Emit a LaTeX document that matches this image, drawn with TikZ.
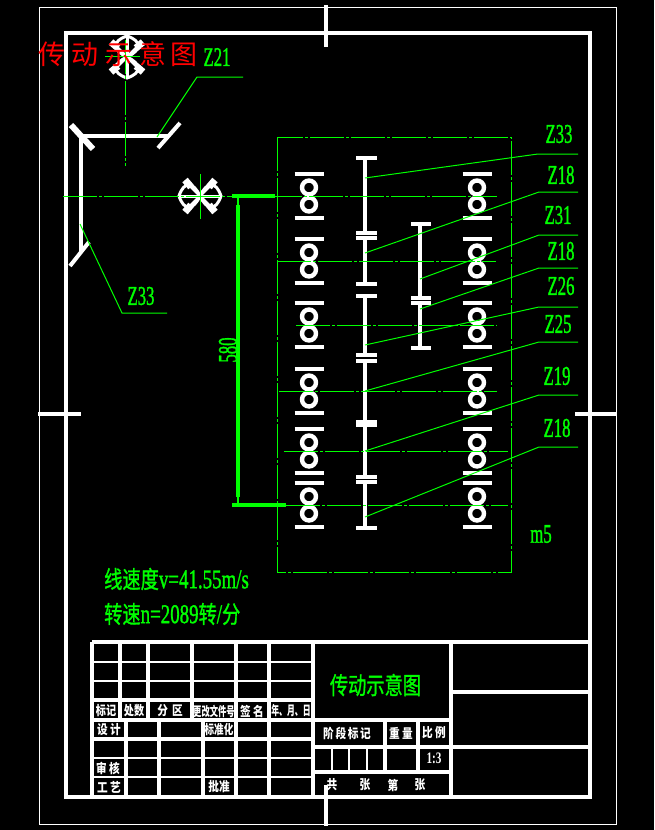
\documentclass[tikz,border=0pt]{standalone}
\usepackage{fontspec}
\usepackage{graphicx}
\setmainfont{Liberation Serif}
\newfontfamily\cjk{Noto Sans CJK SC}
\newfontfamily\cjkf[FakeBold=1.2]{Noto Sans CJK SC}
\newfontfamily\latf[FakeBold=1.5]{Liberation Serif}
\definecolor{cadgreen}{RGB}{0,255,0}
\newcommand{\zlab}[1]{\scalebox{0.62}[1]{\latf\fontsize{27}{27}\selectfont #1}}
\newcommand{\cjkg}[1]{\scalebox{0.76}[1]{\cjkf\fontsize{24}{24}\selectfont #1}}
\newcommand{\latg}[1]{\scalebox{0.7}[1]{\latf\fontsize{27}{27}\selectfont #1}}
\newcommand{\tb}[1]{\scalebox{0.82}[1]{\cjk\bfseries\fontsize{13}{13}\selectfont #1}}
\newcommand{\brg}[3]{%
  \begin{scope}[shift={(#1,#2)},rotate=#3]
    \draw[white,line width=3pt] (-22,0) -- (22,0);
    \draw[white,line width=3pt] (0,0) .. controls (-7,-15) and (-16,-15) .. (-21,0) .. controls (-16,15) and (-7,15) .. (0,0);
    \draw[white,line width=3pt] (0,0) .. controls (7,-15) and (16,-15) .. (21,0) .. controls (16,15) and (7,15) .. (0,0);
    \draw[white,line width=2.5pt] (-14,-14) -- (14,14);
    \draw[white,line width=2.5pt] (14,-14) -- (-14,14);
    \draw[white,line width=7pt] (-15,-16) -- (-9,-9);
    \draw[white,line width=7pt] (15,-16) -- (9,-9);
    \draw[white,line width=7pt] (-15,16) -- (-9,9);
    \draw[white,line width=7pt] (15,16) -- (9,9);
  \end{scope}}
\tikzset{
  thickw/.style={white,line width=4pt},
  medw/.style={white,line width=4pt},
  thinw/.style={white,line width=1.2pt},
  frame/.style={white,line width=1pt},
  leader/.style={cadgreen,line width=1pt},
  cline/.style={cadgreen,line width=1pt,dash pattern=on 34pt off 2pt on 3pt off 2pt},
  dimw/.style={cadgreen,line width=4pt},
  glabel/.style={text=cadgreen,inner sep=0pt},
  wlabel/.style={text=white,inner sep=0pt},
  rbar/.style={white,line width=4pt},
  ring/.style={white,line width=4.4pt}
}
\begin{document}
\begin{tikzpicture}[x=1pt,y=-1pt]
\fill[black] (0,0) rectangle (654,830);
\useasboundingbox (0,0) rectangle (654,830);
% frames
\draw[frame] (39,7) rectangle (616,824);
\draw[thickw] (65.5,33) rectangle (589.5,797);
\draw[thickw] (326,5) -- (326,47);
\draw[thickw] (326,785) -- (326,826);
\draw[thickw] (38,414) -- (81,414);
\draw[thickw] (575,414) -- (617,414);
% title block lines
\draw[thickw] (92,642) -- (589,642);
\draw[thickw] (92,642) -- (92,797);
\foreach \xx in {120,148,192,236,269}{\draw[thickw] (\xx,642) -- (\xx,720);}
\draw[thickw] (313,642) -- (313,797);
\draw[thickw] (451,642) -- (451,797);
\draw[thickw] (92,700) -- (313,700);
\draw[thickw] (92,720) -- (451,720);
\draw[thickw] (92,739) -- (313,739);
\foreach \xx in {126,159,203,236,269}{\draw[thickw] (\xx,720) -- (\xx,797);}
\foreach \yy in {662,681}{\draw[thinw] (92,\yy) -- (313,\yy);}
\foreach \yy in {758,777}{\draw[thinw] (92,\yy) -- (313,\yy);}
\draw[thickw] (451,692) -- (589,692);
\draw[thickw] (313,747) -- (589,747);
\draw[thickw] (313,772) -- (451,772);
\draw[thickw] (385,720) -- (385,772);
\draw[thickw] (418,720) -- (418,772);
\foreach \xx in {332,349,367}{\draw[thinw] (\xx,747) -- (\xx,772);}
% left shafts
\draw[medw] (82,136) -- (168,136);
\draw[medw] (81,136) -- (81,252);
\draw[white,line width=6pt] (71,125) -- (93,149);
\draw[medw] (180,123) -- (158,148);
\draw[medw] (89,242) -- (70,266);
% bearing symbols
\brg{200}{196}{0}
\brg{127}{57}{90}
% bearings
\foreach \cx in {309,477}{
  \foreach \cy in {196,261,325,391,451,505}{
    \draw[rbar] (\cx-14.5,\cy-22) -- (\cx+14.5,\cy-22);
    \draw[rbar] (\cx-14.5,\cy+22) -- (\cx+14.5,\cy+22);
    \draw[ring] (\cx,\cy-8.5) circle (7);
    \draw[ring] (\cx,\cy+8.5) circle (7);
  }
}
% gears shaft 1
\foreach \ya/\yb in {158/233,238/284,296/355,361/422,425/477,482/528}{
  \draw[thickw] (365,\ya) -- (365,\yb);
  \draw[rbar] (356,\ya) -- (377,\ya);
  \draw[rbar] (356,\yb) -- (377,\yb);
}
\foreach \ya/\yb in {224/298,303/348}{
  \draw[thickw] (420,\ya) -- (420,\yb);
  \draw[rbar] (411,\ya) -- (431,\ya);
  \draw[rbar] (411,\yb) -- (431,\yb);
}
% green box and centre lines
\draw[cline] (277,137) rectangle (511,572);
\draw[cline] (63,196) -- (497,196);
\draw[cline] (277,261) -- (496,261);
\draw[cline] (296,325) -- (497,325);
\draw[cline] (279,391) -- (497,391);
\draw[cline] (284,451) -- (508,451);
\draw[cline] (286,505) -- (508,505);
\draw[cline] (125,40) -- (125,166);
\draw[leader] (105,56) -- (140,56);
\draw[leader] (200,174) -- (200,219);
% dimension
\draw[dimw] (232,196) -- (275,196);
\draw[dimw] (232,505) -- (286,505);
\draw[dimw] (238,205) -- (238,497);
\draw[cadgreen,line width=1.5pt] (238,198) -- (238,206);
\draw[cadgreen,line width=1.5pt] (238,496) -- (238,503);
% leaders
\draw[leader] (365,178) -- (538,154) -- (578,154);
\draw[leader] (365,253) -- (539,192) -- (578,192);
\draw[leader] (420,279) -- (539,235) -- (578,235);
\draw[leader] (420,309) -- (539,268) -- (578,268);
\draw[leader] (365,345) -- (539,307) -- (578,307);
\draw[leader] (365,391) -- (539,342) -- (578,342);
\draw[leader] (365,451) -- (539,395) -- (578,395);
\draw[leader] (365,517) -- (539,447) -- (578,447);
\draw[leader] (157,137) -- (197,77) -- (243,77);
\draw[leader] (80,224) -- (122,313) -- (167,313);
% labels
\node[glabel] (l1) at (559,134) {\zlab{Z33}};
\node[glabel] (l2) at (561,175) {\zlab{Z18}};
\node[glabel] (l3) at (558,215) {\zlab{Z31}};
\node[glabel] (l4) at (561,251) {\zlab{Z18}};
\node[glabel] (l5) at (561,286) {\zlab{Z26}};
\node[glabel] (l6) at (558,324) {\zlab{Z25}};
\node[glabel] (l7) at (557,376) {\zlab{Z19}};
\node[glabel] (l8) at (557,428) {\zlab{Z18}};
\node[glabel] (l9) at (217,57) {\zlab{Z21}};
\node[glabel] (l10) at (141,296) {\zlab{Z33}};
\node[glabel] (l11) at (541,534) {\zlab{m5}};
\node[glabel,rotate=90] (l12) at (228,350) {\zlab{580}};
\node[glabel,anchor=west] (v) at (104,579) {\cjkg{线速度}\latg{v=41.55m/s}};
\node[glabel,anchor=west] (n) at (104,614) {\cjkg{转速}\latg{n=2089}\cjkg{转}\latg{/}\cjkg{分}};
\node[text=red,inner sep=0pt,anchor=west] (red) at (38,54) {\cjk\fontsize{27}{27}\selectfont 传\hspace{6pt}动\hspace{7pt}示\hspace{7pt}意\hspace{4pt}图};
\node[glabel] (tt) at (375.5,685) {\scalebox{0.76}[1]{\cjkf\fontsize{24}{24}\selectfont 传动示意图}};
% title block text
\node[wlabel] (a1) at (106,711) {\scalebox{0.95}[1]{\tb{标记}}};
\node[wlabel] (a2) at (134,711) {\scalebox{0.95}[1]{\tb{处数}}};
\node[wlabel] (a3) at (170,711) {\tb{分\hspace{5pt}区}};
\node[wlabel] (a4) at (214,711) {\scalebox{0.78}[1]{\tb{更改文件号}}};
\node[wlabel] (a5) at (252,711) {\tb{签\hspace{3pt}名}};
\node[wlabel] (a6) at (291,711) {\scalebox{0.74}[1]{\tb{年、月、日}}};
\node[wlabel] (a7) at (109,730) {\tb{设\hspace{3pt}计}};
\node[wlabel] (a8) at (219,730) {\scalebox{0.9}[1]{\tb{标准化}}};
\node[wlabel] (a9) at (108,768) {\tb{审\hspace{3pt}核}};
\node[wlabel] (a10) at (109,787) {\tb{工\hspace{3pt}艺}};
\node[wlabel] (a11) at (219,787) {\tb{批准}};
\node[wlabel] (a12) at (347,733) {\tb{阶\hspace{2pt}段\hspace{2pt}标\hspace{2pt}记}};
\node[wlabel] (a13) at (401,733) {\tb{重\hspace{3pt}量}};
\node[wlabel] (a14) at (434,733) {\tb{比\hspace{3pt}例}};
\node[wlabel] (a15) at (434,758) {\scalebox{0.7}[1]{\fontsize{16}{16}\bfseries\selectfont 1:3}};
\node[wlabel] (a16) at (332,785) {\tb{共}};
\node[wlabel] (a17) at (365,785) {\tb{张}};
\node[wlabel] (a18) at (393,785) {\tb{第}};
\node[wlabel] (a19) at (420,785) {\tb{张}};
\end{tikzpicture}
\end{document}
